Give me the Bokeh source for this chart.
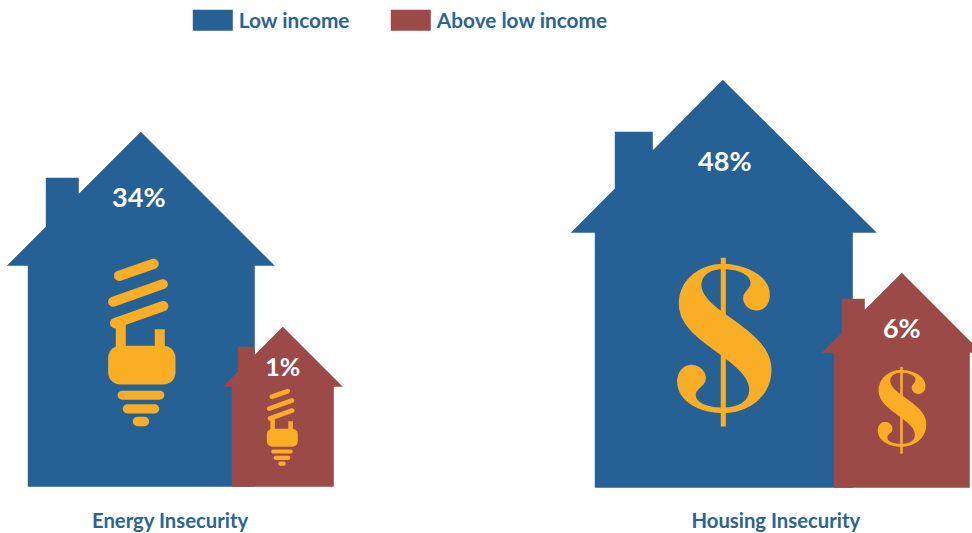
from bokeh.plotting import figure
from bokeh.models import Range1d
from bokeh.core.properties import value
from bokeh.embed import file_html
from bokeh.resources import INLINE
import numpy as np

# ---- data
series = ["Low income", "Above low income"]
categories = ["Energy Insecurity", "Housing Insecurity"]
low_income = [34, 48]
above_low_income = [1, 6]

# ---- style
BLUE = "#266196"
RED = "#9b4a47"
GOLD = "#f9ae26"
TEXT = "#2a6496"
FONT = "Lato"

W, H = 972, 533
OFF = 0.7
p = figure(width=W, height=H, output_backend="svg", toolbar_location=None,
           x_range=Range1d(OFF, W + OFF), y_range=Range1d(H + OFF, OFF), min_border=0,
           outline_line_color=None, background_fill_color="white", border_fill_color="white")
p.axis.visible = False
p.grid.visible = False


def house(apex_x, apex_y, eave_y, eave_l, eave_r, wall_l, wall_r, base, ch_l, ch_r, ch_top):
    """Outline of a house: roof with 45 degree slopes, chimney on the left slope."""
    slope = (eave_y - apex_y) / (apex_x - eave_l)
    ch_l_y = eave_y - (ch_l - eave_l) * slope
    ch_r_y = eave_y - (ch_r - eave_l) * slope
    xs = [eave_l, ch_l, ch_l, ch_r, ch_r, apex_x, eave_r, wall_r, wall_r, wall_l, wall_l]
    ys = [eave_y, ch_l_y, ch_top, ch_top, ch_r_y, apex_y, eave_y, eave_y, base, base, eave_y]
    return xs, ys


def bez(p0, c1, c2, p1, n=24):
    t = np.linspace(0, 1, n)[:, None]
    a, b, c, d = map(np.array, (p0, c1, c2, p1))
    return (1 - t) ** 3 * a + 3 * (1 - t) ** 2 * t * b + 3 * (1 - t) * t ** 2 * c + t ** 3 * d


S_SEGS = [
    ((190, 42), (240, 42), (330, 70), (330, 135)),
    ((330, 135), (330, 165), (312, 182), (290, 182)),
    ((290, 182), (268, 182), (250, 165), (250, 145)),
    ((250, 145), (250, 125), (272, 118), (272, 100)),
    ((272, 100), (272, 75), (235, 58), (190, 58)),
    ((190, 58), (150, 58), (125, 78), (125, 105)),
    ((125, 105), (125, 140), (165, 170), (200, 195)),
    ((200, 195), (270, 245), (335, 290), (335, 360)),
    ((335, 360), (335, 440), (265, 490), (190, 490)),
    ((190, 490), (120, 490), (52, 455), (52, 395)),
    ((52, 395), (52, 365), (72, 345), (95, 345)),
    ((95, 345), (120, 345), (138, 365), (138, 385)),
    ((138, 385), (138, 410), (108, 415), (108, 435)),
    ((108, 435), (108, 462), (150, 473), (190, 473)),
    ((190, 473), (235, 473), (268, 455), (268, 420)),
    ((268, 420), (268, 385), (235, 355), (195, 325)),
    ((195, 325), (130, 275), (57, 235), (57, 160)),
    ((57, 160), (57, 90), (120, 42), (190, 42)),
]


def dollar(ox, oy, s):
    pts = np.vstack([bez(*seg) for seg in S_SEGS])
    xs, ys = [list(ox + pts[:, 0] * s)], [list(oy + pts[:, 1] * s)]
    bx0, bx1, by0, by1 = 183, 198, 24, 530
    xs.append([ox + bx0 * s, ox + bx1 * s, ox + bx1 * s, ox + bx0 * s])
    ys.append([oy + by0 * s, oy + by0 * s, oy + by1 * s, oy + by1 * s])
    return xs, ys


def stadium(x0, y0, x1, y1, w):
    ang = np.arctan2(y1 - y0, x1 - x0)
    a1 = np.linspace(ang + np.pi / 2, ang + 3 * np.pi / 2, 14)
    a2 = np.linspace(ang - np.pi / 2, ang + np.pi / 2, 14)
    xs = np.r_[x0 + w / 2 * np.cos(a1), x1 + w / 2 * np.cos(a2)]
    ys = np.r_[y0 + w / 2 * np.sin(a1), y1 + w / 2 * np.sin(a2)]
    return xs, ys


def rrect(x0, y0, x1, y1, r):
    xs, ys = [], []
    for cx, cy, a0 in [(x1 - r, y0 + r, -np.pi / 2), (x1 - r, y1 - r, 0),
                       (x0 + r, y1 - r, np.pi / 2), (x0 + r, y0 + r, np.pi)]:
        a = np.linspace(a0, a0 + np.pi / 2, 10)
        xs.extend(cx + r * np.cos(a))
        ys.extend(cy + r * np.sin(a))
    return np.array(xs), np.array(ys)


def bulb(ox, oy, s):
    shapes = [
        stadium(88, 108, 191, 72, 31),
        stadium(70, 186, 219, 133, 30),
        stadium(76, 250, 220, 199, 31),
        rrect(78, 245, 108, 325, 0.1),
        rrect(195, 268, 225, 325, 0.1),
        rrect(55, 318, 257, 434, 36),
        stadium(97, 466, 210, 466, 27),
        stadium(113, 507, 194, 507, 28),
        stadium(143, 545, 164, 545, 28),
    ]
    return ([list(ox + a * s) for a, _ in shapes], [list(oy + b * s) for _, b in shapes])


# ---- houses (drawn blue first, red over it)
houses = [
    (house(141, 132, 266, 7, 275, 28, 255, 487, 46, 79, 178), BLUE),
    (house(723, 80, 233, 571, 877, 595, 853, 488, 615, 653, 132), BLUE),
    (house(283, 327, 387, 223, 343, 232, 334, 487, 238, 255, 347), RED),
    (house(902, 273, 353, 822, 982, 834, 970, 488, 842, 865, 299), RED),
]
for (hx, hy), col in houses:
    p.patch(hx, hy, fill_color=col, line_color=None)

# ---- icons
for (bx, by) in [bulb(90, 240, 1 / 3), bulb(258.6, 380.3, 0.46 / 3)]:
    p.patches(bx, by, fill_color=GOLD, line_color=None)
for (dx, dy) in [dollar(660, 250, 1 / 3), dollar(901.7 - 190.5 * 0.515 / 3, 367 - 24 * 0.515 / 3, 0.515 / 3)]:
    p.patches(dx, dy, fill_color=GOLD, line_color=None)

# ---- percent labels
vals = low_income + above_low_income
px = [139, 725, 283, 902]
py = [196.5, 160.5, 366, 328]
ps = ["27px", "27px", "25px", "27px"]
for v, x, y, fs in zip(vals, px, py, ps):
    p.text([x], [y], text=[f"{v}%"], text_color="white", text_font=value(FONT), text_font_style="bold",
           text_font_size=fs, text_align="center", text_baseline="middle")

# ---- category labels
for c, x in zip(categories, [170.5, 776]):
    p.text([x], [520.5], text=[c], text_color=TEXT, text_font=value(FONT), text_font_style="bold",
           text_font_size="20.3px", text_align="center", text_baseline="middle")

# ---- legend
p.quad(left=[193, 391], right=[233, 431], top=[10, 10], bottom=[31, 31], fill_color=[BLUE, RED], line_color=None)
p.text([239, 437], [20, 20], text=series, text_color=TEXT, text_font=value(FONT), text_font_style="bold",
       text_font_size="20.8px", text_align="left", text_baseline="middle")

open("out.html", "w").write(file_html(p, INLINE))
